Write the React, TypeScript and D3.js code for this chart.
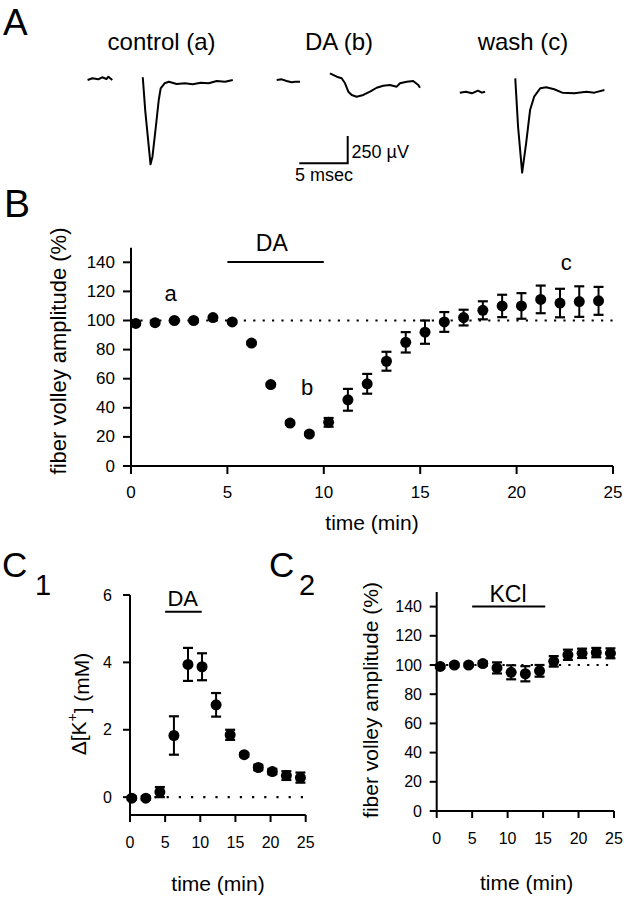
import React from "react";
import * as d3 from "d3";

// ---------- DATA ----------
// Panel A traces: [time (ms), voltage (µV)] relative to each trace's start
const controlPre = [[0, 0], [0.5, 16], [1.1, 6], [1.5, 25], [1.95, 9], [2.15, 30], [2.55, 0]];
const controlPost = [[5.7, 25], [5.95, -275], [6.5, -772], [6.7, -702], [7.05, -428], [7.35, -183], [7.55, -76], [7.95, -30], [8.4, -16], [9.2, -37], [10.05, -30], [10.85, -39], [11.7, -25], [12.5, -30], [13.35, -9], [14.2, -16], [15.0, 0]];
const daPre = [[0, 0], [0.52, 6], [1.03, -9], [1.55, -21], [1.89, -16], [2.41, -16]];
const daPost = [[5.5, 61], [6.2, 30], [6.71, 16], [7.06, -30], [7.4, -107], [7.75, -137], [8.26, -153], [8.95, -137], [9.64, -107], [10.33, -71], [11.0, -52], [11.7, -46], [12.4, -61], [12.74, -30], [13.43, -16], [14.1, -9], [14.63, -46], [14.8, -71]];
const washPre = [[0, -6], [0.63, 3], [1.25, -12], [1.87, 12], [2.28, -6], [2.61, 3]];
const washPost = [[5.73, 125], [6.02, -318], [6.44, -739], [6.85, -470], [7.26, -165], [7.68, -43], [8.31, 34], [8.93, 43], [9.75, 25], [10.58, -6], [11.83, -12], [13.07, 3], [13.9, -6], [14.94, 18]];
const traceLabels = ["control (a)", "DA (b)", "wash (c)"];

// Panel B
const bTime = [0.25, 1.25, 2.25, 3.25, 4.25, 5.25, 6.25, 7.25, 8.25, 9.25, 10.25, 11.25, 12.25, 13.25, 14.25, 15.25, 16.25, 17.25, 18.25, 19.25, 20.25, 21.25, 22.25, 23.25, 24.25];
const bAmp = [98, 98.5, 100, 100, 102, 99, 84.5, 56, 29.5, 22, 30, 45.5, 56.5, 72, 85, 92, 99, 102, 107, 110, 110, 114.5, 112, 113, 113.5];
const bErr = [1, 1, 1, 1, 1, 1, 1, 1, 1, 1, 3, 7.5, 6.8, 6.5, 7, 8, 6.8, 5.4, 6.2, 7.7, 8.8, 9.5, 9.8, 10.5, 9.6];
const bYTicks = [0, 20, 40, 60, 80, 100, 120, 140];
const xTicks = [0, 5, 10, 15, 20, 25];

// Panel C1
const c1Time = [0.25, 2.25, 4.25, 6.25, 8.25, 10.25, 12.25, 14.25, 16.25, 18.25, 20.25, 22.25, 24.25];
const c1K = [-0.03, -0.03, 0.15, 1.83, 3.94, 3.87, 2.74, 1.85, 1.26, 0.88, 0.76, 0.64, 0.58];
const c1Err = [0.05, 0.05, 0.15, 0.57, 0.49, 0.4, 0.35, 0.15, 0.05, 0.08, 0.08, 0.13, 0.15];
const c1YTicks = [0, 2, 4, 6];

// Panel C2
const c2Time = [0.5, 2.5, 4.5, 6.5, 8.5, 10.5, 12.5, 14.5, 16.5, 18.5, 20.5, 22.5, 24.5];
const c2Amp = [99, 100, 100, 101, 98, 95, 94, 96, 102.5, 107, 108, 108.5, 108];
const c2Err = [1, 1, 1, 1.5, 3.8, 4.8, 5.2, 4, 3.6, 3.5, 3.2, 3.2, 3.4];

const FONT = "'Liberation Sans', Arial, Helvetica, sans-serif";

function Trace({ pre, post, x0, y0 }) {
  const x = d3.scaleLinear().domain([0, 5]).range([x0, x0 + 48.4]);
  const y = d3.scaleLinear().domain([0, 250]).range([y0, y0 - 27.3]);
  const line = d3.line().x((d) => x(d[0])).y((d) => y(d[1]));
  return (
    <g fill="none" stroke="#000" strokeWidth={2} strokeLinejoin="round">
      <path d={line(pre)} />
      <path d={line(post)} />
    </g>
  );
}

function ErrDots({ xs, ys, es, sx, sy, r = 5.5 }) {
  return (
    <g>
      {xs.map((t, i) => {
        const cx = sx(t);
        const lo = sy(ys[i] - es[i]);
        const hi = sy(ys[i] + es[i]);
        return (
          <g key={i}>
            <line x1={cx} x2={cx} y1={lo} y2={hi} stroke="#000" strokeWidth={2} />
            <line x1={cx - 5} x2={cx + 5} y1={lo} y2={lo} stroke="#000" strokeWidth={2.2} />
            <line x1={cx - 5} x2={cx + 5} y1={hi} y2={hi} stroke="#000" strokeWidth={2.2} />
            <circle cx={cx} cy={sy(ys[i])} r={r} fill="#000" />
          </g>
        );
      })}
    </g>
  );
}

function Axes({ sx, sy, yTicks, xTicks, axisY, tickLen, yFont, xLabelY, yLabelRight }) {
  const [x0, x1] = sx.range();
  const [yb, yt] = sy.range();
  return (
    <g fontFamily={FONT} fill="#000">
      <line x1={x0} x2={x0} y1={yt} y2={axisY} stroke="#000" strokeWidth={2} />
      <line x1={x0} x2={x1} y1={axisY} y2={axisY} stroke="#000" strokeWidth={2} />
      {yTicks.map((t) => (
        <g key={"y" + t}>
          <line x1={x0 - tickLen} x2={x0} y1={sy(t)} y2={sy(t)} stroke="#000" strokeWidth={2} />
          <text x={yLabelRight} y={sy(t)} textAnchor="end" dominantBaseline="central" fontSize={yFont}>{t}</text>
        </g>
      ))}
      {xTicks.map((t) => (
        <g key={"x" + t}>
          <line x1={sx(t)} x2={sx(t)} y1={axisY} y2={axisY + tickLen} stroke="#000" strokeWidth={2} />
          <text x={sx(t)} y={xLabelY} textAnchor="middle" dominantBaseline="central" fontSize={yFont}>{t}</text>
        </g>
      ))}
    </g>
  );
}

export default function App() {
  // Panel B scales
  const bx = d3.scaleLinear().domain([0, 25]).range([131, 613]);
  const by = d3.scaleLinear().domain([0, 150]).range([466, 247.75]);
  // Panel C1 scales
  const c1x = d3.scaleLinear().domain([0, 25]).range([130, 305.7]);
  const c1y = d3.scaleLinear().domain([-0.53, 6]).range([815, 595]);
  // Panel C2 scales
  const c2x = d3.scaleLinear().domain([0, 25]).range([436.7, 614]);
  const c2y = d3.scaleLinear().domain([0, 150]).range([811, 592]);

  return (
    <svg width={628} height={899} style={{ position: "absolute", left: 0, top: 0, background: "#fff" }} fontFamily={FONT}>
      <rect width={628} height={899} fill="#fff" />
      {/* Panel letters */}
      <text x={3} y={35} fontSize={37}>A</text>
      <text x={4} y={217} fontSize={39}>B</text>
      <text x={2} y={577} fontSize={35}>C</text>
      <text x={35} y={595} fontSize={29}>1</text>
      <text x={269} y={577} fontSize={35}>C</text>
      <text x={299} y={595} fontSize={29}>2</text>

      {/* Panel A */}
      <text x={161.6} y={50} fontSize={24} textAnchor="middle">{traceLabels[0]}</text>
      <text x={339} y={50} fontSize={24} textAnchor="middle">{traceLabels[1]}</text>
      <text x={523} y={50} fontSize={24} textAnchor="middle">{traceLabels[2]}</text>
      <Trace pre={controlPre} post={controlPost} x0={87.6} y0={80} />
      <Trace pre={daPre} post={daPost} x0={276.7} y0={80} />
      <Trace pre={washPre} post={washPost} x0={459.8} y0={92} />
      <g stroke="#000" strokeWidth={2} fill="none">
        <path d="M299.3,163.3 H347.7 V136" />
      </g>
      <text x={351.5} y={152} fontSize={18} dominantBaseline="central">250 µV</text>
      <text x={324} y={175} fontSize={18} textAnchor="middle" dominantBaseline="central">5 msec</text>

      {/* Panel B */}
      <line x1={bx(0)} x2={bx(25)} y1={by(100)} y2={by(100)} stroke="#000" strokeWidth={2.2} strokeDasharray="2.2 7.2" />
      <Axes sx={bx} sy={by} yTicks={bYTicks} xTicks={xTicks} axisY={466} tickLen={8} yFont={17} xLabelY={492} yLabelRight={115} />
      <ErrDots xs={bTime} ys={bAmp} es={bErr} sx={bx} sy={by} />
      <line x1={bx(5)} x2={bx(10)} y1={262} y2={262} stroke="#000" strokeWidth={2} />
      <text x={bx(7.3)} y={251} fontSize={23} textAnchor="middle">DA</text>
      <text x={bx(2.06)} y={293} fontSize={22} textAnchor="middle" dominantBaseline="central">a</text>
      <text x={bx(9.14)} y={387} fontSize={22} textAnchor="middle" dominantBaseline="central">b</text>
      <text x={bx(22.58)} y={262} fontSize={22} textAnchor="middle" dominantBaseline="central">c</text>
      <text x={bx(12.5)} y={522} fontSize={21} textAnchor="middle" dominantBaseline="central">time (min)</text>
      <text transform="translate(58,351) rotate(-90)" fontSize={22} textAnchor="middle" dominantBaseline="central">fiber volley amplitude (%)</text>

      {/* Panel C1 */}
      <line x1={c1x(0)} x2={c1x(25)} y1={c1y(0)} y2={c1y(0)} stroke="#000" strokeWidth={2.2} strokeDasharray="2.2 10" />
      <Axes sx={c1x} sy={c1y} yTicks={c1YTicks} xTicks={xTicks} axisY={815} tickLen={7} yFont={16} xLabelY={842} yLabelRight={112} />
      <ErrDots xs={c1Time} ys={c1K} es={c1Err} sx={c1x} sy={c1y} />
      <line x1={c1x(5)} x2={c1x(10.2)} y1={611.7} y2={611.7} stroke="#000" strokeWidth={2} />
      <text x={182.7} y={606} fontSize={22} textAnchor="middle">DA</text>
      <text x={218} y={883} fontSize={21} textAnchor="middle" dominantBaseline="central">time (min)</text>
      <text transform="translate(78,704) rotate(-90)" fontSize={21} textAnchor="middle" dominantBaseline="central">
        Δ[K<tspan dy="-0.45em" fontSize={14}>+</tspan><tspan dy="0.45em">] (mM)</tspan>
      </text>

      {/* Panel C2 */}
      <line x1={c2x(0)} x2={c2x(25)} y1={c2y(100)} y2={c2y(100)} stroke="#000" strokeWidth={2.2} strokeDasharray="2.2 7.2" />
      <Axes sx={c2x} sy={c2y} yTicks={bYTicks} xTicks={xTicks} axisY={811} tickLen={7} yFont={16} xLabelY={838} yLabelRight={422} />
      <ErrDots xs={c2Time} ys={c2Amp} es={c2Err} sx={c2x} sy={c2y} />
      <line x1={c2x(5)} x2={c2x(15.3)} y1={c2y(140)} y2={c2y(140)} stroke="#000" strokeWidth={2} />
      <text x={508} y={601.5} fontSize={23} textAnchor="middle">KCl</text>
      <text x={526.7} y={882} fontSize={21} textAnchor="middle" dominantBaseline="central">time (min)</text>
      <text transform="translate(370,700) rotate(-90)" fontSize={21} textAnchor="middle" dominantBaseline="central">fiber volley amplitude (%)</text>
    </svg>
  );
}
